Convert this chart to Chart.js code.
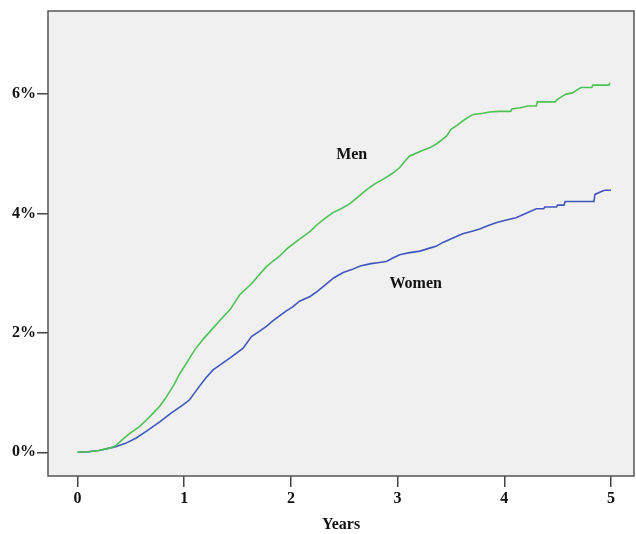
<!DOCTYPE html>
<html>
<head>
<meta charset="utf-8">
<script src="https://cdn.jsdelivr.net/npm/chart.js@4/dist/chart.umd.min.js"></script>
<style>
  html, body { margin: 0; padding: 0; background: #ffffff; }
  #wrap { width: 636px; height: 534px; }
</style>
</head>
<body>
<div id="wrap"><canvas id="myChart" width="636" height="534"></canvas></div>
<script>
const ctx = document.getElementById("myChart");

// years since start / cumulative incidence (%)
const menYears = [0, 0.1, 0.2, 0.3, 0.35, 0.4, 0.45, 0.5, 0.58, 0.65, 0.7, 0.77, 0.83, 0.9, 0.96,
  1.03, 1.1, 1.18, 1.27, 1.35, 1.43, 1.52, 1.58, 1.64, 1.7, 1.77, 1.83, 1.89, 1.97,
  2.05, 2.12, 2.18, 2.25, 2.32, 2.39, 2.47, 2.55, 2.63, 2.71, 2.79, 2.87, 2.95,
  3.02, 3.07, 3.11, 3.21, 3.3, 3.36, 3.42, 3.46, 3.5, 3.56, 3.61, 3.66, 3.71, 3.8, 3.86, 3.95,
  4.06, 4.07, 4.15, 4.22, 4.3, 4.31, 4.48, 4.49, 4.55, 4.58, 4.64, 4.69, 4.72, 4.82, 4.83, 4.98, 4.99];
const menPct = [0, 0.01, 0.03, 0.07, 0.1, 0.18, 0.26, 0.33, 0.43, 0.55, 0.64, 0.77, 0.92, 1.12, 1.32,
  1.52, 1.72, 1.9, 2.08, 2.24, 2.39, 2.64, 2.74, 2.84, 2.97, 3.11, 3.2, 3.28, 3.42,
  3.53, 3.62, 3.7, 3.82, 3.92, 4.01, 4.08, 4.16, 4.28, 4.4, 4.5, 4.58, 4.67,
  4.77, 4.88, 4.96, 5.04, 5.1, 5.16, 5.24, 5.3, 5.41, 5.48, 5.55, 5.61, 5.66, 5.68, 5.7, 5.71,
  5.71, 5.75, 5.77, 5.8, 5.8, 5.87, 5.87, 5.9, 5.97, 6.0, 6.02, 6.08, 6.11, 6.11, 6.15, 6.15, 6.19];

const womenYears = [0, 0.1, 0.2, 0.3, 0.35, 0.45, 0.55, 0.65, 0.77, 0.88, 0.985,
  1.05, 1.14, 1.2, 1.27, 1.35, 1.43, 1.55, 1.63, 1.7, 1.77, 1.83, 1.89, 1.95,
  2.02, 2.08, 2.18, 2.25, 2.32, 2.4, 2.49, 2.57, 2.65, 2.75, 2.83, 2.9, 2.96,
  3.02, 3.1, 3.21, 3.3, 3.36, 3.43, 3.52, 3.61, 3.69, 3.77, 3.85, 3.93,
  4.02, 4.11, 4.2, 4.3, 4.37, 4.38, 4.49, 4.5, 4.56, 4.57, 4.84, 4.85, 4.9, 4.94, 5.0];
const womenPct = [0, 0.01, 0.03, 0.07, 0.09, 0.15, 0.24, 0.36, 0.51, 0.66, 0.79,
  0.88, 1.1, 1.24, 1.38, 1.48, 1.58, 1.74, 1.94, 2.02, 2.11, 2.2, 2.28, 2.36,
  2.44, 2.53, 2.61, 2.7, 2.8, 2.92, 3.01, 3.06, 3.12, 3.16, 3.18, 3.2, 3.26,
  3.31, 3.34, 3.37, 3.42, 3.45, 3.52, 3.59, 3.66, 3.7, 3.74, 3.8, 3.85,
  3.89, 3.93, 4.0, 4.08, 4.08, 4.11, 4.11, 4.14, 4.14, 4.2, 4.2, 4.32, 4.36, 4.39, 4.39];

const xTicks = [0, 1, 2, 3, 4, 5];
const yTicks = [0, 2, 4, 6];

const seriesLabels = [
  { text: "Men", x: 2.57, y: 4.99 },
  { text: "Women", x: 3.17, y: 2.82 },
];

function toPoints(xs, ys) {
  const out = [];
  for (let i = 0; i < xs.length; i++) {
    out.push({ x: xs[i], y: ys[i] });
  }
  return out;
}

const serif = "'Liberation Serif', 'Times New Roman', serif";

const framePlugin = {
  id: "frame",
  beforeDatasetsDraw(chart) {
    const { ctx, chartArea: a } = chart;
    ctx.save();
    ctx.fillStyle = "#f0f0f0";
    ctx.fillRect(a.left, a.top, a.right - a.left, a.bottom - a.top);
    ctx.restore();
  },
  afterDatasetsDraw(chart) {
    const { ctx, chartArea: a, scales } = chart;
    ctx.save();
    ctx.strokeStyle = "#555555";
    ctx.lineWidth = 1.5;
    ctx.strokeRect(a.left, a.top, a.right - a.left, a.bottom - a.top);
    ctx.fillStyle = "#111111";
    ctx.font = "bold 16px " + serif;
    ctx.textAlign = "center";
    ctx.textBaseline = "middle";
    seriesLabels.forEach((l) => {
      ctx.fillText(l.text, scales.x.getPixelForValue(l.x), scales.y.getPixelForValue(l.y));
    });
    ctx.restore();
  },
};

new Chart(ctx, {
  type: "line",
  data: {
    datasets: [
      {
        label: "Men",
        data: toPoints(menYears, menPct),
        borderColor: "#4cc254",
        borderWidth: 1.6,
        tension: 0,
        pointRadius: 0,
        fill: false,
      },
      {
        label: "Women",
        data: toPoints(womenYears, womenPct),
        borderColor: "#3f56bd",
        borderWidth: 1.6,
        tension: 0,
        pointRadius: 0,
        fill: false,
      },
    ],
  },
  options: {
    responsive: false,
    animation: false,
    layout: { padding: { top: 11, right: 2, left: 0, bottom: 0 } },
    plugins: {
      legend: { display: false },
      tooltip: { enabled: false },
    },
    scales: {
      x: {
        type: "linear",
        min: -0.277,
        max: 5.216,
        afterBuildTicks: (s) => { s.ticks = xTicks.map((v) => ({ value: v })); },
        afterFit: (s) => { s.height = 58; },
        grid: {
          drawOnChartArea: false,
          drawTicks: true,
          tickLength: 11,
          color: "#444444",
          lineWidth: 1.5,
        },
        border: { display: false },
        ticks: {
          color: "#111111",
          font: { family: serif, size: 16, weight: "bold" },
          padding: 2,
          maxRotation: 0,
        },
        title: {
          display: true,
          text: "Years",
          color: "#111111",
          font: { family: serif, size: 16, weight: "bold" },
          padding: { top: 0, bottom: 0 },
        },
      },
      y: {
        min: -0.397,
        max: 7.392,
        afterBuildTicks: (s) => { s.ticks = yTicks.map((v) => ({ value: v })); },
        afterFit: (s) => { s.width = 48; },
        grid: {
          drawOnChartArea: false,
          drawTicks: true,
          tickLength: 11,
          color: "#444444",
          lineWidth: 1.5,
        },
        border: { display: false },
        ticks: {
          color: "#111111",
          font: { family: serif, size: 16, weight: "bold" },
          padding: 1,
          callback: (v) => v + "%",
        },
      },
    },
  },
  plugins: [framePlugin],
});
</script>
</body>
</html>
